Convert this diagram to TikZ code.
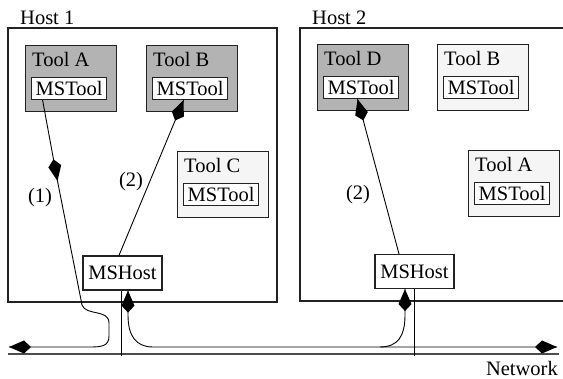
\documentclass[tikz,border=0pt]{standalone}
\usepackage{fontspec}
\setmainfont{Liberation Serif}
\usetikzlibrary{decorations.markings}
\definecolor{toolgray}{HTML}{B3B3B3}
\definecolor{toollight}{HTML}{F5F5F5}
\definecolor{edge}{HTML}{222222}
\tikzset{
  txt/.style={font=\fontsize{20.5}{24}\selectfont, inner sep=0pt},
  toolbox/.style={draw=edge, line width=1.2pt, minimum width=91pt, minimum height=66pt, anchor=north west, inner sep=0pt},
  msbox/.style={draw=edge, fill=white, line width=1.2pt, minimum width=75pt, minimum height=22pt, anchor=north west, inner sep=0pt, font=\fontsize{20.5}{24}\selectfont},
  hostbox/.style={draw=edge, fill=white, line width=1.2pt, minimum width=79pt, minimum height=34pt, inner sep=0pt, font=\fontsize{20.5}{24}\selectfont},
  frame/.style={draw=edge, line width=1.2pt},
  conn/.style={line width=0.9pt},
  headend/.style={postaction={decorate, decoration={markings, mark=at position 1 with {\fill (0,0) -- (-15,6.5) -- (-22,0) -- (-15,-6.5) -- cycle;}}}},
  headstart/.style={postaction={decorate, decoration={markings, mark=at position 0 with {\fill (0,0) -- (15,6.5) -- (22,0) -- (15,-6.5) -- cycle;}}}},
  net/.style={draw=black!70, line width=1.6pt}
}
\newcommand{\mytool}[5]{%
  \node[toolbox, fill=#5] (#1) at (#2,#3) {};
  \node[txt, anchor=base west] (#1l) at (#2+7,#3+22) {#4};
  \node[msbox] (#1m) at (#2+6,#3+32) {MSTool};
}
\begin{document}
\begin{tikzpicture}[x=1pt, y=-1pt]
\useasboundingbox (0,0) rectangle (563,379);
% hosts
\draw[frame] (8,28) rectangle (277,302);
\node[txt, anchor=base west] (h1) at (20,25) {Host 1};
\draw[frame] (563,28) -- (300,28) -- (300,301) -- (563,301);
\node[txt, anchor=base west] (h2) at (312,25) {Host 2};
% tools
\mytool{tA}{25}{45}{Tool A}{toolgray}
\mytool{tB}{146}{45}{Tool B}{toolgray}
\mytool{tC}{177}{151}{Tool C}{toollight}
\mytool{tD}{317}{44}{Tool D}{toolgray}
\mytool{tBb}{437}{44}{Tool B}{toollight}
\mytool{tAb}{468}{150}{Tool A}{toollight}
% hosts
\node[hostbox] (ms1) at (122.5,273) {MSHost};
\node[hostbox] (ms2) at (414.5,271.5) {MSHost};
% network
\draw[net] (8,354) -- (559,354);
\draw[conn] (ms1.south -| 121,0) -- (121,356);
\draw[conn] (ms2.south -| 414,0) -- (414,356);
% arrow (1)
\coordinate (m1) at (57.5,181);
\draw[conn, headend] ([xshift=-26.5pt]tAm.south) -- (m1);
\draw[conn, headend] (m1) -- (82,305) .. controls (86,316) and (109,309) .. (109,323) -- (109,336) .. controls (109,346) and (102,347) .. (90,347) -- (9,347);
% arrows (2)
\draw[conn, headend] ([xshift=-3.5pt]ms1.north) -- ([xshift=-6.5pt]tBm.south);
\draw[conn, headend] ([xshift=-15.5pt]ms2.north) -- ([xshift=-3.5pt]tDm.south);
% network arrows
\draw[conn, headstart, headend] ([xshift=5.5pt]ms1.south) -- (128,315) .. controls (128,336) and (136,347) .. (153,347) -- (557,347);
\draw[conn, headend] (380,347) .. controls (398,347) and (405,336) .. (405,315) -- ([xshift=-9.5pt]ms2.south);
% labels
\node[txt] (l1) at (40,198) {(1)};
\node[txt] (l2) at (131,182) {(2)};
\node[txt] (l3) at (358,195) {(2)};
\node[txt, anchor=base east, text depth=0pt] (nw) at (558,376) {Network};
\end{tikzpicture}
\end{document}
